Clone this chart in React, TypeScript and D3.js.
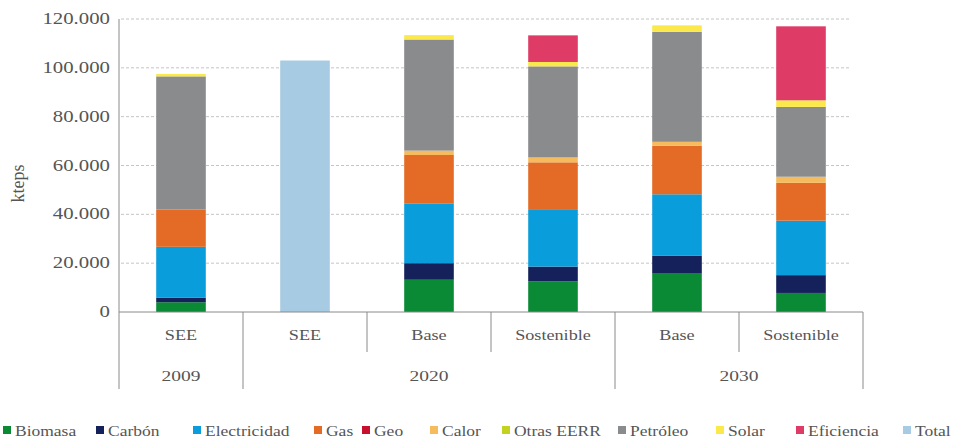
import React from "react";
import * as d3 from "d3";

// Scenario columns and the year each belongs to
const categories = ["SEE", "SEE", "Base", "Sostenible", "Base", "Sostenible"];
const years = ["2009", "2020", "2020", "2020", "2030", "2030"];

// Final energy demand by source, kteps
const biomasa = [4000, 0, 13200, 12500, 15700, 7800];
const carbon = [1900, 0, 6800, 6100, 7300, 7300];
const electricidad = [20800, 0, 24500, 23200, 25200, 22300];
const gas = [15300, 0, 19800, 19500, 19900, 15500];
const geo = [0, 0, 0, 0, 0, 0];
const calor = [0, 0, 1800, 2000, 1600, 2500];
const otrasEERR = [0, 0, 0, 0, 0, 0];
const petroleo = [54500, 0, 45500, 37300, 45000, 28600];
const solar = [1000, 0, 1800, 1800, 2700, 2700];
const eficiencia = [0, 0, 0, 10900, 0, 30300];
const total = [0, 103000, 0, 0, 0, 0];

const seriesNames = [
  "Biomasa", "Carbón", "Electricidad", "Gas", "Geo", "Calor",
  "Otras EERR", "Petróleo", "Solar", "Eficiencia", "Total",
];
const seriesValues = [
  biomasa, carbon, electricidad, gas, geo, calor,
  otrasEERR, petroleo, solar, eficiencia, total,
];
const seriesColors = [
  "#0b8a36", "#15215a", "#0a9ddc", "#e36b25", "#c8102e", "#f6bb5c",
  "#c3d21f", "#8a8b8d", "#fbe94c", "#de3b67", "#a6cbe2",
];
const yTicks = [0, 20000, 40000, 60000, 80000, 100000, 120000];

// Legend item x positions
const legendX = [3, 96, 193, 314, 362, 430, 502, 618, 716, 796, 903];

const W = 954;
const H = 439;
const plotLeft = 119;
const plotRight = 863;
const plotTop = 19;
const plotBottom = 312;
const catRowBottom = 352;
const yearRowBottom = 389;
const textColor = "#555";
const lineColor = "#8a8a8a";
const FONT = "'Liberation Serif', 'Times New Roman', serif";

function SText(props: {
  x: number; y: number; size: number; anchor?: string; children: React.ReactNode;
  fill?: string; stretch?: number;
}) {
  const { x, y, size, anchor = "start", children, fill = textColor, stretch = 1.3 } = props;
  return (
    <text
      transform={`translate(${x},${y}) scale(${stretch},1)`}
      fontSize={size}
      fontFamily={FONT}
      textAnchor={anchor}
      fill={fill}
    >
      {children}
    </text>
  );
}

export default function App() {
  const idx = categories.map((_, i) => i);
  const x = d3.scaleBand<number>().domain(idx).range([plotLeft, plotRight]).padding(0);
  const y = d3.scaleLinear().domain([0, 120000]).range([plotBottom, plotTop]);
  const barW = x.bandwidth() * 0.4;

  const rows = idx.map((i) => {
    const r: Record<string, number> = {};
    seriesNames.forEach((n, k) => (r[n] = seriesValues[k][i]));
    return r;
  });
  const stacked = d3.stack<Record<string, number>>().keys(seriesNames)(rows);

  // Year groups: consecutive columns sharing a year
  const groups: { year: string; start: number; end: number }[] = [];
  years.forEach((yr, i) => {
    const g = groups[groups.length - 1];
    if (g && g.year === yr) g.end = i;
    else groups.push({ year: yr, start: i, end: i });
  });
  const groupStarts = new Set(groups.map((g) => g.start));

  return (
    <svg
      width={W}
      height={H}
      style={{ position: "absolute", left: 0, top: 0, background: "#fff" }}
    >
      {/* gridlines */}
      {yTicks.filter((t) => t > 0).map((t) => (
        <line
          key={t}
          x1={plotLeft + 2}
          x2={850}
          y1={y(t)}
          y2={y(t)}
          stroke="#c4c4c4"
          strokeDasharray="3,2"
        />
      ))}

      {/* stacked bars */}
      {stacked.map((s, k) =>
        s.map((d, i) => {
          const h = y(d[0]) - y(d[1]);
          if (h <= 0) return null;
          return (
            <rect
              key={`${k}-${i}`}
              x={(x(i) as number) + (x.bandwidth() - barW) / 2}
              y={y(d[1])}
              width={barW}
              height={h}
              fill={seriesColors[k]}
            />
          );
        })
      )}

      {/* y axis */}
      <line x1={plotLeft} x2={plotLeft} y1={plotTop} y2={yearRowBottom} stroke={lineColor} />
      {yTicks.map((t) => (
        <SText key={t} x={110} y={y(t) + 5} size={16} anchor="end">
          {d3.format(",")(t).replace(/,/g, ".")}
        </SText>
      ))}
      <text
        transform={`translate(24,${(plotTop + plotBottom) / 2 + 18}) rotate(-90)`}
        fontSize={18}
        fontFamily={FONT}
        textAnchor="middle"
        fill={textColor}
      >
        kteps
      </text>

      {/* category axis */}
      <line x1={plotLeft} x2={plotRight} y1={plotBottom} y2={plotBottom} stroke={lineColor} />
      {idx.map((i) => {
        const xr = (x(i) as number) + x.bandwidth();
        const isGroupEdge = i === idx.length - 1 || groupStarts.has(i + 1);
        return (
          <line
            key={`d${i}`}
            x1={xr}
            x2={xr}
            y1={plotBottom}
            y2={isGroupEdge ? yearRowBottom : catRowBottom}
            stroke={lineColor}
          />
        );
      })}
      {idx.map((i) => (
        <SText key={`c${i}`} x={(x(i) as number) + x.bandwidth() / 2} y={340} size={14} anchor="middle">
          {categories[i]}
        </SText>
      ))}
      {groups.map((g) => (
        <SText
          key={g.year}
          x={((x(g.start) as number) + (x(g.end) as number) + x.bandwidth()) / 2}
          y={381}
          size={15}
          anchor="middle"
        >
          {g.year}
        </SText>
      ))}

      {/* legend */}
      {seriesNames.map((n, k) => (
        <g key={n}>
          <rect x={legendX[k]} y={426} width={8} height={8} fill={seriesColors[k]} />
          <SText x={legendX[k] + 12} y={436} size={14} stretch={1.25}>
            {n}
          </SText>
        </g>
      ))}
    </svg>
  );
}
